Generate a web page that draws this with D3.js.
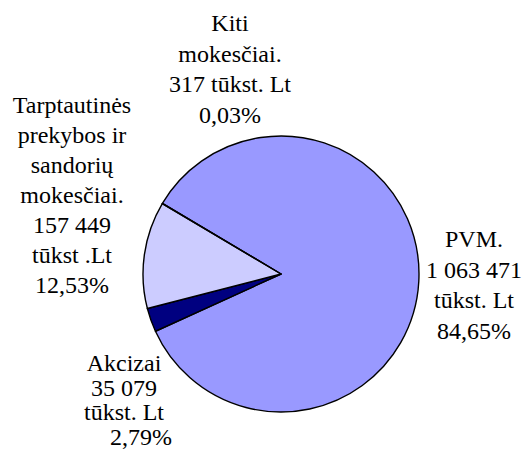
<!DOCTYPE html>
<html>
<head>
<meta charset="utf-8">
<script src="https://cdn.jsdelivr.net/npm/d3@7"></script>
</head>
<body style="margin:0">
<div id="chart"></div>
<script>
// Mokesčių struktūra (tūkst. Lt)
const categories = ["PVM", "Akcizai", "Tarptautinės prekybos ir sandorių mokesčiai", "Kiti mokesčiai"];
const values = [1063471, 35079, 157449, 317];
const colors = ["#9999FF", "#000080", "#CCCCFF", "#FFFFCC"];
const labelLines = [
  ["PVM.", "1 063 471", "tūkst. Lt", "84,65%"],
  ["Akcizai", "35 079", "tūkst. Lt", "2,79%"],
  ["Tarptautinės", "prekybos ir", "sandorių", "mokesčiai.", "157 449", "tūkst .Lt", "12,53%"],
  ["Kiti", "mokesčiai.", "317 tūkst. Lt", "0,03%"]
];

const width = 526, height = 450;
const cx = 281, cy = 274, radius = 138;

const svg = d3.select("#chart").append("svg")
  .attr("width", width)
  .attr("height", height);

const start = -59.25 * Math.PI / 180;
const pie = d3.pie()
  .sort(null)
  .value(d => d)
  .startAngle(start)
  .endAngle(start + 2 * Math.PI);

const arc = d3.arc().innerRadius(0).outerRadius(radius);

const g = svg.append("g").attr("transform", `translate(${cx},${cy})`);

g.selectAll("path")
  .data(pie(values))
  .join("path")
  .attr("d", arc)
  .attr("fill", (d, i) => colors[i])
  .attr("stroke", "#000")
  .attr("stroke-width", 1.4)
  .attr("stroke-linejoin", "round");

// label placement: [x centre, first baseline, line step, last-line shift]
const labelPos = [
  [474, 247, 30.5, 0],
  [124, 371, 24.7, 17],
  [72, 113, 30, 0],
  [230, 31, 30.5, 0]
];

labelLines.forEach((lines, i) => {
  const [x, y0, step, lastShift] = labelPos[i];
  lines.forEach((line, j) => {
    svg.append("text")
      .attr("x", x + (j === lines.length - 1 ? lastShift : 0))
      .attr("y", y0 + j * step)
      .attr("font-family", "Liberation Serif")
      .attr("font-size", 24)
      .attr("text-anchor", "middle")
      .text(line);
  });
});
</script>
</body>
</html>
